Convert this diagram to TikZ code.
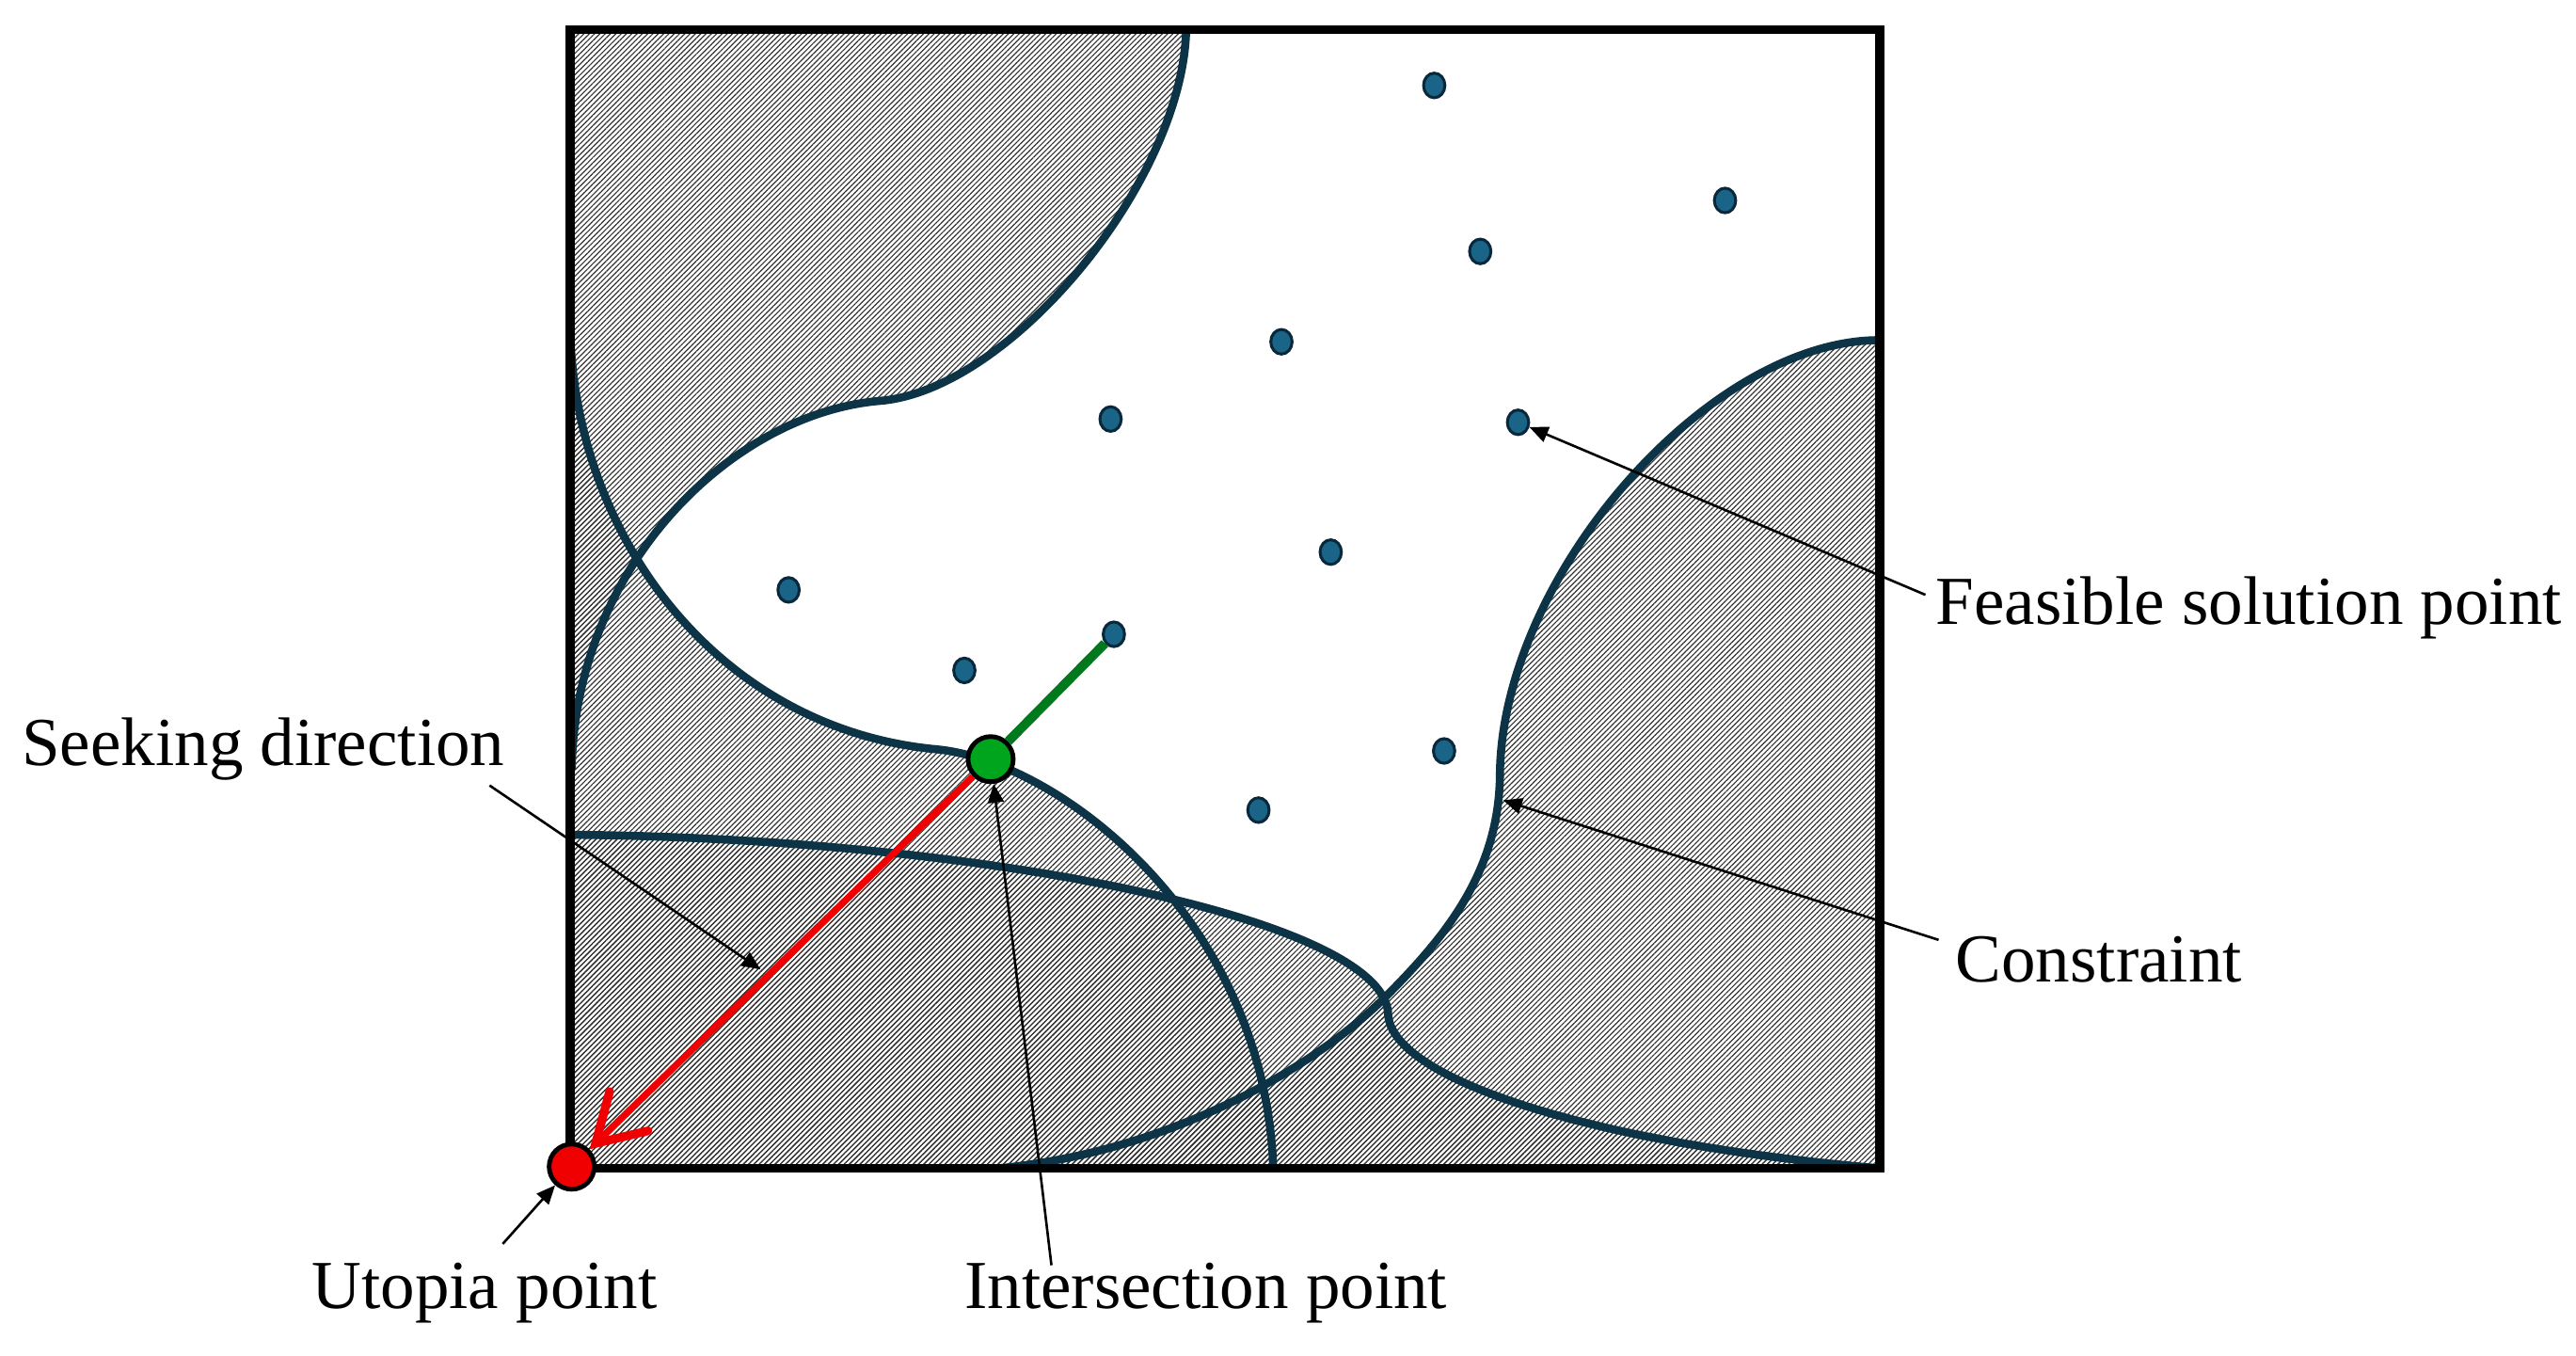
\documentclass[tikz,border=0pt]{standalone}
\usepackage{fontspec}
\setmainfont{Liberation Serif}
\usetikzlibrary{patterns.meta,arrows.meta,shapes.geometric}
\definecolor{consC}{RGB}{12,52,70}
\definecolor{dotC}{RGB}{25,100,135}
\definecolor{dotE}{RGB}{10,40,60}
\definecolor{gfill}{RGB}{0,165,30}
\definecolor{gline}{RGB}{0,120,30}
\definecolor{rfill}{RGB}{240,0,0}
\begin{document}
\begin{tikzpicture}[x=0.02cm,y=-0.02cm,
  hatch/.style={pattern={Lines[angle=45,distance=1.3pt,line width=0.38pt]},pattern color=black!80},
  cons/.style={draw=consC,line width=2.8pt},
  dot/.style={ellipse,draw=dotE,fill=dotC,line width=1pt,minimum width=0.26cm,minimum height=0.30cm,inner sep=0pt},
  bigpt/.style={circle,draw=black,line width=1.6pt,minimum size=0.55cm,inner sep=0pt},
  lbl/.style={font=\fontsize{23.8}{28}\selectfont,inner sep=0pt},
  ann/.style={draw=black,line width=0.85pt,-{Triangle[length=6.5pt,width=5.5pt]}}]
\useasboundingbox (0,0) rectangle (1568,825);
% hatched regions
\fill[hatch] (347,18) -- (722,18) .. controls (720,110) and (615,238) .. (535,244)
   .. controls (445,252) and (350,345) .. (348,468) -- cycle;
\fill[hatch] (347,200) .. controls (350,330) and (440,444) .. (570,456)
   .. controls (645,463) and (770,560) .. (775,711) -- (347,711) -- cycle;
\fill[hatch] (347,508) .. controls (600,510) and (845,560) .. (845,618)
   .. controls (848,655) and (960,695) .. (1144,711) -- (347,711) -- cycle;
\fill[hatch] (1144,207) .. controls (1040,207) and (915,350) .. (913,470)
   .. controls (913,530) and (880,570) .. (843,607)
   .. controls (806,644) and (720,700) .. (608,711) -- (1144,711) -- cycle;
% constraint curves
\draw[cons] (722,18) .. controls (720,110) and (615,238) .. (535,244)
   .. controls (445,252) and (350,345) .. (348,468);
\draw[cons] (347,200) .. controls (350,330) and (440,444) .. (570,456)
   .. controls (645,463) and (770,560) .. (775,711);
\draw[cons] (347,508) .. controls (600,510) and (845,560) .. (845,618)
   .. controls (848,655) and (960,695) .. (1144,711);
\draw[cons] (1144,207) .. controls (1040,207) and (915,350) .. (913,470)
   .. controls (913,530) and (880,570) .. (843,607)
   .. controls (806,644) and (720,700) .. (608,711);
% frame
\draw[line width=3.2pt] (347,18) rectangle (1144,711);
% feasible points
\node[dot] (d1) at (873,52) {};
\node[dot] (d2) at (1050,122) {};
\node[dot] (d3) at (901,153) {};
\node[dot] (d4) at (780,208) {};
\node[dot] (d5) at (676,255) {};
\node[dot] (d6) at (924,257) {};
\node[dot] (d7) at (810,336) {};
\node[dot] (d8) at (480,359) {};
\node[dot] (d9) at (678,386) {};
\node[dot] (d10) at (587,408) {};
\node[dot] (d11) at (879,457) {};
\node[dot] (d12) at (766,493) {};
% special points
\node[bigpt,fill=gfill] (g) at (603,462) {};
\node[bigpt,fill=rfill] (r) at (348,710) {};
\draw[gline,line width=3.2pt] (g) -- (d9);
\draw[rfill,line width=2.4pt,-{Straight Barb[length=16pt,width=19pt,line width=3pt,line cap=round]}] (g) -- (r);
% labels
\node[lbl,anchor=west] (lf) at (1178,370) {Feasible solution point};
\node[lbl,anchor=west] (lc) at (1190,584) {Constraint};
\node[lbl,anchor=west] (ls) at (13,456) {Seeking direction};
\node[lbl] (lu) at (295,787) {Utopia point};
\node[lbl] (li) at (734,787) {Intersection point};
% annotation arrows
\coordinate (fs) at (1172,362);
\coordinate (cs) at (1180,572);
\coordinate (ct) at (915,487);
\coordinate (ss) at (298,478);
\coordinate (st) at (463,590);
\coordinate (is) at (640,770);
\coordinate (us) at (306,757);
\draw[ann] (fs) -- (d6);
\draw[ann] (cs) -- (ct);
\draw[ann] (ss) -- (st);
\draw[ann] (is) -- (g);
\draw[ann] (us) -- (r);
\end{tikzpicture}
\end{document}
